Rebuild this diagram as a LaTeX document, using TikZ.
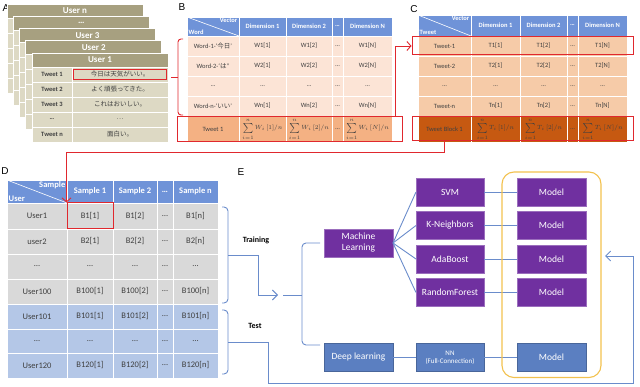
\documentclass[tikz,border=0pt]{standalone}
\usepackage{fontspec}
\setmainfont{Carlito}
\newfontfamily\jp{Noto Sans CJK JP}
\newfontfamily\labfont{Liberation Sans}
\usetikzlibrary{arrows.meta, positioning, fit}

\definecolor{hblue}{HTML}{6F93D8}
\definecolor{akhaki}{HTML}{A7A080}
\definecolor{alight}{HTML}{DDD9C4}
\definecolor{bpeach}{HTML}{FCE4D6}
\definecolor{borange}{HTML}{F4B183}
\definecolor{cpeach}{HTML}{F6CBA8}
\definecolor{cdark}{HTML}{C65911}
\definecolor{dgray}{HTML}{D9D9D9}
\definecolor{dblue}{HTML}{B4C7E7}
\definecolor{epurple}{HTML}{7030A0}
\definecolor{eblue}{HTML}{5B7FC1}
\definecolor{lblue}{HTML}{6A8CCB}
\definecolor{myred}{HTML}{E0282E}
\definecolor{gold}{HTML}{F2C14E}
\definecolor{txt}{HTML}{404040}

\tikzset{
  cell/.style={draw=white, line width=0.8pt, inner sep=0pt, outer sep=0pt, text=txt, align=center, font=\fontsize{6.5}{7.5}\selectfont},
  sumcell/.style={font=\fontsize{6}{7}\selectfont},
  htext/.style={text=white, font=\fontsize{6.5}{7.5}\selectfont\bfseries},
  ahead/.style={text=white, font=\fontsize{9}{10}\selectfont\bfseries},
  redbox/.style={draw=myred, line width=1pt, inner sep=0pt},
  rline/.style={draw=myred, line width=0.9pt},
  rarrow/.style={rline, -{Straight Barb[length=4pt, width=9pt]}},
  bline/.style={draw=lblue, line width=0.9pt},
  barrow/.style={bline, -{Straight Barb[length=5pt, width=10pt]}},
  pbox/.style={draw=epurple!70!white, fill=epurple, text=white, minimum width=68pt, minimum height=28pt, inner sep=1pt, outer sep=0pt, align=center, font=\fontsize{9.5}{11}\selectfont},
  ebox/.style={pbox, draw=eblue!80!black, fill=eblue},
  plab/.style={font=\labfont\fontsize{10}{12}\selectfont, inner sep=0pt},
  slab/.style={font=\fontsize{8}{9}\selectfont\bfseries, inner sep=0pt},
}

% [options]{name}{x1}{y1}{x2}{y2}{fill}{text}
\newcommand{\tcell}[8][]{\node[cell, fill=#7, minimum width={(#5)-(#3)}, minimum height={(#6)-(#4)}, #1] (#2) at ({((#3)+(#5))/2},{((#4)+(#6))/2}) {#8};}

\begin{document}
\begin{tikzpicture}[x=1pt, y=-1pt]
  \useasboundingbox (0,0) rectangle (640,387);

  % A
  \node[plab] (la) at (6,8) {A};
  \foreach \i/\usr in {0/User n, 1/…, 2/User 3, 3/User 2} {
    \pgfmathsetmacro\ax{7+6.25*\i}
    \pgfmathsetmacro\ay{4+12.25*\i}
    \tcell[ahead]{ah\i}{\ax}{\ay}{\ax+136}{\ay+14}{akhaki}{\usr}
    \foreach \row in {0,...,4} {
      \tcell{ab\i\row0}{\ax}{\ay+14+15*\row}{\ax+40}{\ay+29+15*\row}{alight}{}
      \tcell{ab\i\row1}{\ax+40}{\ay+14+15*\row}{\ax+136}{\ay+29+15*\row}{alight}{}
    }
  }
  \tcell[ahead]{ah4}{32}{53}{168}{67}{akhaki}{User 1}
  \foreach \row/\tw/\jt in {0/Tweet 1/今日は天気がいい。, 1/Tweet 2/よく頑張ってきた。, 2/Tweet 3/これはおいしい。, 3/…/…, 4/Tweet n/面白い。} {
    \tcell[font=\fontsize{6.5}{7.5}\selectfont\bfseries]{a\row0}{32}{67+15*\row}{72}{82+15*\row}{alight}{\tw}
    \tcell{a\row1}{72}{67+15*\row}{168}{82+15*\row}{alight}{{\jp\jt}}
  }
  \node[redbox, fit=(a01), inner xsep=-1.5pt, inner ysep=-2.5pt] (abox) {};

  % B
  \node[plab] (lb) at (182,7) {B};
  \tcell{bh0}{187}{17}{239}{36}{hblue}{}
  \draw[white, line width=0.6pt] (bh0.north west) -- (bh0.south east);
  \node[htext, anchor=north east, inner sep=1.5pt] (bvec) at (bh0.north east) {Vector};
  \node[htext, anchor=south west, inner sep=1.5pt] (bword) at (bh0.south west) {Word};
  \foreach \x/\xb/\lbl [count=\c] in {239/286/Dimension 1, 286/332/Dimension 2, 332/343/…, 343/392/Dimension N}
    {\tcell[htext]{bh\c}{\x}{17}{\xb}{36}{hblue}{\lbl}}
  \foreach \row/\ya/\yb/\wrd/\kk in {1/36/56/{Word-1-‘{\jp 今日}’}/1, 2/56/76/{Word-2-‘{\jp は}”}/2, 4/96/116/{Word-n-‘{\jp いい}’}/n} {
    \tcell{b\row0}{187}{\ya}{239}{\yb}{bpeach}{\wrd}
    \tcell{b\row1}{239}{\ya}{286}{\yb}{bpeach}{W\kk[1]}
    \tcell{b\row2}{286}{\ya}{332}{\yb}{bpeach}{W\kk[2]}
    \tcell{b\row3}{332}{\ya}{343}{\yb}{bpeach}{…}
    \tcell{b\row4}{343}{\ya}{392}{\yb}{bpeach}{W\kk[N]}
  }
  \foreach \x/\xb [count=\c from 0] in {187/239, 239/286, 286/332, 332/343, 343/392}
    {\tcell{b3\c}{\x}{76}{\xb}{96}{bpeach}{…}}
  \tcell{b50}{187}{116}{239}{142}{borange}{Tweet 1}
  \tcell[sumcell]{b51}{239}{116}{286}{142}{borange}{$\sum\limits_{i=1}^{n} W_i\,[1]/n$}
  \tcell[sumcell]{b52}{286}{116}{332}{142}{borange}{$\sum\limits_{i=1}^{n} W_i\,[2]/n$}
  \tcell{b53}{332}{116}{343}{142}{borange}{…}
  \tcell[sumcell]{b54}{343}{116}{392}{142}{borange}{$\sum\limits_{i=1}^{n} W_i\,[N]/n$}
  \node[redbox, fit=(b50)(b54), inner xsep=10pt, inner ysep=-0.5pt] (bbox) {};
  % bracket on the word rows
  \draw[rline, rounded corners=3pt] (183,39) -- (178,39) -- (178,115) -- (183,115);
  \draw[rline] (178,77) -- (171,77);

  % C
  \node[plab] (lc) at (414,9) {C};
  \tcell{ch0}{418}{15}{471}{36}{hblue}{}
  \draw[white, line width=0.6pt] (ch0.north west) -- (ch0.south east);
  \node[htext, anchor=north east, inner sep=1.5pt] (cvec) at (ch0.north east) {Vector};
  \node[htext, anchor=south west, inner sep=1.5pt] (ctw) at (ch0.south west) {Tweet};
  \foreach \x/\xb/\lbl [count=\c] in {471/520/Dimension 1, 520/567/Dimension 2, 567/578/…, 578/627/Dimension N}
    {\tcell[htext]{ch\c}{\x}{15}{\xb}{36}{hblue}{\lbl}}
  \foreach \row/\ya/\yb/\kk in {1/36/56/1, 2/56/76/2, 4/96/116/n} {
    \tcell{c\row0}{418}{\ya}{471}{\yb}{cpeach}{Tweet-\kk}
    \tcell{c\row1}{471}{\ya}{520}{\yb}{cpeach}{T\kk[1]}
    \tcell{c\row2}{520}{\ya}{567}{\yb}{cpeach}{T\kk[2]}
    \tcell{c\row3}{567}{\ya}{578}{\yb}{cpeach}{…}
    \tcell{c\row4}{578}{\ya}{627}{\yb}{cpeach}{T\kk[N]}
  }
  \foreach \x/\xb [count=\c from 0] in {418/471, 471/520, 520/567, 567/578, 578/627}
    {\tcell{c3\c}{\x}{76}{\xb}{96}{cpeach}{…}}
  \tcell{c50}{418}{116}{471}{142}{cdark}{Tweet Block 1}
  \tcell[sumcell]{c51}{471}{116}{520}{142}{cdark}{$\sum\limits_{i=1}^{n} T_i\,[1]/n$}
  \tcell[sumcell]{c52}{520}{116}{567}{142}{cdark}{$\sum\limits_{i=1}^{n} T_i\,[2]/n$}
  \tcell{c53}{567}{116}{578}{142}{cdark}{…}
  \tcell[sumcell]{c54}{578}{116}{627}{142}{cdark}{$\sum\limits_{i=1}^{n} T_i\,[N]/n$}
  \node[redbox, fit=(c10)(c14), inner xsep=6pt, inner ysep=-1pt] (cbox1) {};
  \node[redbox, fit=(c50)(c54), inner xsep=6pt, inner ysep=-1pt] (cbox2) {};
  \draw[rarrow] ([xshift=-7pt]bbox.north east) |- (cbox1.west);

  % D
  \node[plab] (ld) at (5,171) {D};
  \begin{scope}[cell/.append style={font=\fontsize{8.5}{9.5}\selectfont}, htext/.append style={font=\fontsize{8.5}{9.5}\selectfont\bfseries}]
    \tcell{dh0}{7}{180}{67}{203}{hblue}{}
    \draw[white, line width=0.6pt] (dh0.north west) -- (dh0.south east);
    \node[htext, anchor=north east, inner sep=1.5pt] (dsmp) at (dh0.north east) {Sample};
    \node[htext, anchor=south west, inner sep=1.5pt] (dusr) at (dh0.south west) {User};
    \foreach \x/\xb/\lbl [count=\c] in {67/113/Sample 1, 113/157/Sample 2, 157/173/…, 173/218/Sample n}
      {\tcell[htext]{dh\c}{\x}{180}{\xb}{203}{hblue}{\lbl}}
    \foreach \row/\ya/\yb/\usr/\kk/\clr in {1/203/229/User1/1/dgray, 2/229/254/user2/2/dgray, 4/279/304/User100/100/dgray, 5/304/329/User101/101/dblue, 7/353/378/User120/120/dblue} {
      \tcell{d\row0}{7}{\ya}{67}{\yb}{\clr}{\usr}
      \tcell{d\row1}{67}{\ya}{113}{\yb}{\clr}{B\kk[1]}
      \tcell{d\row2}{113}{\ya}{157}{\yb}{\clr}{B\kk[2]}
      \tcell{d\row3}{157}{\ya}{173}{\yb}{\clr}{…}
      \tcell{d\row4}{173}{\ya}{218}{\yb}{\clr}{B\kk[n]}
    }
    \foreach \row/\ya/\yb/\clr in {3/254/279/dgray, 6/329/353/dblue} {
      \foreach \x/\xb [count=\c from 0] in {7/67, 67/113, 113/157, 157/173, 173/218}
        {\tcell{d\row\c}{\x}{\ya}{\xb}{\yb}{\clr}{…}}
    }
  \end{scope}
  \node[redbox, fit=(d11), inner sep=0pt] (dbox) {};
  \draw[rarrow] ([xshift=33pt]cbox2.south west) -- ++(0,11) -| (dbox.north west);

  % brackets Training / Test
  \draw[bline, rounded corners=4pt] (222,207) -- (228,207) -- (228,303) -- (222,303);
  \draw[bline, rounded corners=4pt] (222,310) -- (228,310) -- (228,374) -- (222,374);
  \coordinate (trk) at (238,255);
  \coordinate (tsk) at (238,342);
  \draw[bline] (228,255) -- (trk);
  \draw[bline] (228,342) -- (tsk);
  \node[slab] (trl) at (256,240) {Training};
  \node[slab] (tsl) at (255,326) {Test};

  % E
  \node[plab] (le) at (241,172) {E};
  \node[pbox, minimum width=69pt] (ml) at (358.5,243) {Machine\\Learning};
  \node[ebox, minimum width=69pt] (dl) at (358.5,357.5) {Deep learning};
  \node[pbox] (svm) at (450,192) {SVM};
  \node[pbox, below=5.5pt of svm] (knn) {K-Neighbors};
  \node[pbox, below=5.5pt of knn] (ada) {AdaBoost};
  \node[pbox, below=5.5pt of ada] (rf) {RandomForest};
  \node[ebox, font=\fontsize{7}{8.5}\selectfont] (nn) at (450,357.5) {NN\\(Full-Connection)};
  \foreach \src/\m in {svm/m1, knn/m2, ada/m3, rf/m4}
    \node[pbox, minimum width=69pt, right=33pt of \src] (\m) {Model};
  \node[ebox, minimum width=69pt, right=33pt of nn] (m5) {Model};
  % connections
  \foreach \dst in {svm, knn, ada, rf}
    \draw[bline] (ml.east) -- (\dst.west);
  \foreach \a/\b in {svm/m1, knn/m2, ada/m3, rf/m4, dl/nn, nn/m5}
    \draw[bline] (\a) -- (\b);
  \node[draw=gold, line width=1.1pt, rounded corners=12pt, fit=(m1)(m5), inner xsep=15pt, inner ysep=6pt] (mfit) {};
  % brace in front of the two branches
  \coordinate (ein) at (278,295);
  \coordinate (eout) at (283,295);
  \draw[bline, rounded corners=4pt] ([xshift=-4pt]ml.west) -- (302,243) -- (302,345) -- (320,345);
  \draw[bline] (eout) -- (302,295);
  \draw[barrow] (trk) -- ++(20,0) |- (ein);
  \coordinate (mret) at (605,256);
  \draw[barrow] (tsk) -- (268,342) -- (268,383) -| (633,256) -- (mret);
\end{tikzpicture}
\end{document}
